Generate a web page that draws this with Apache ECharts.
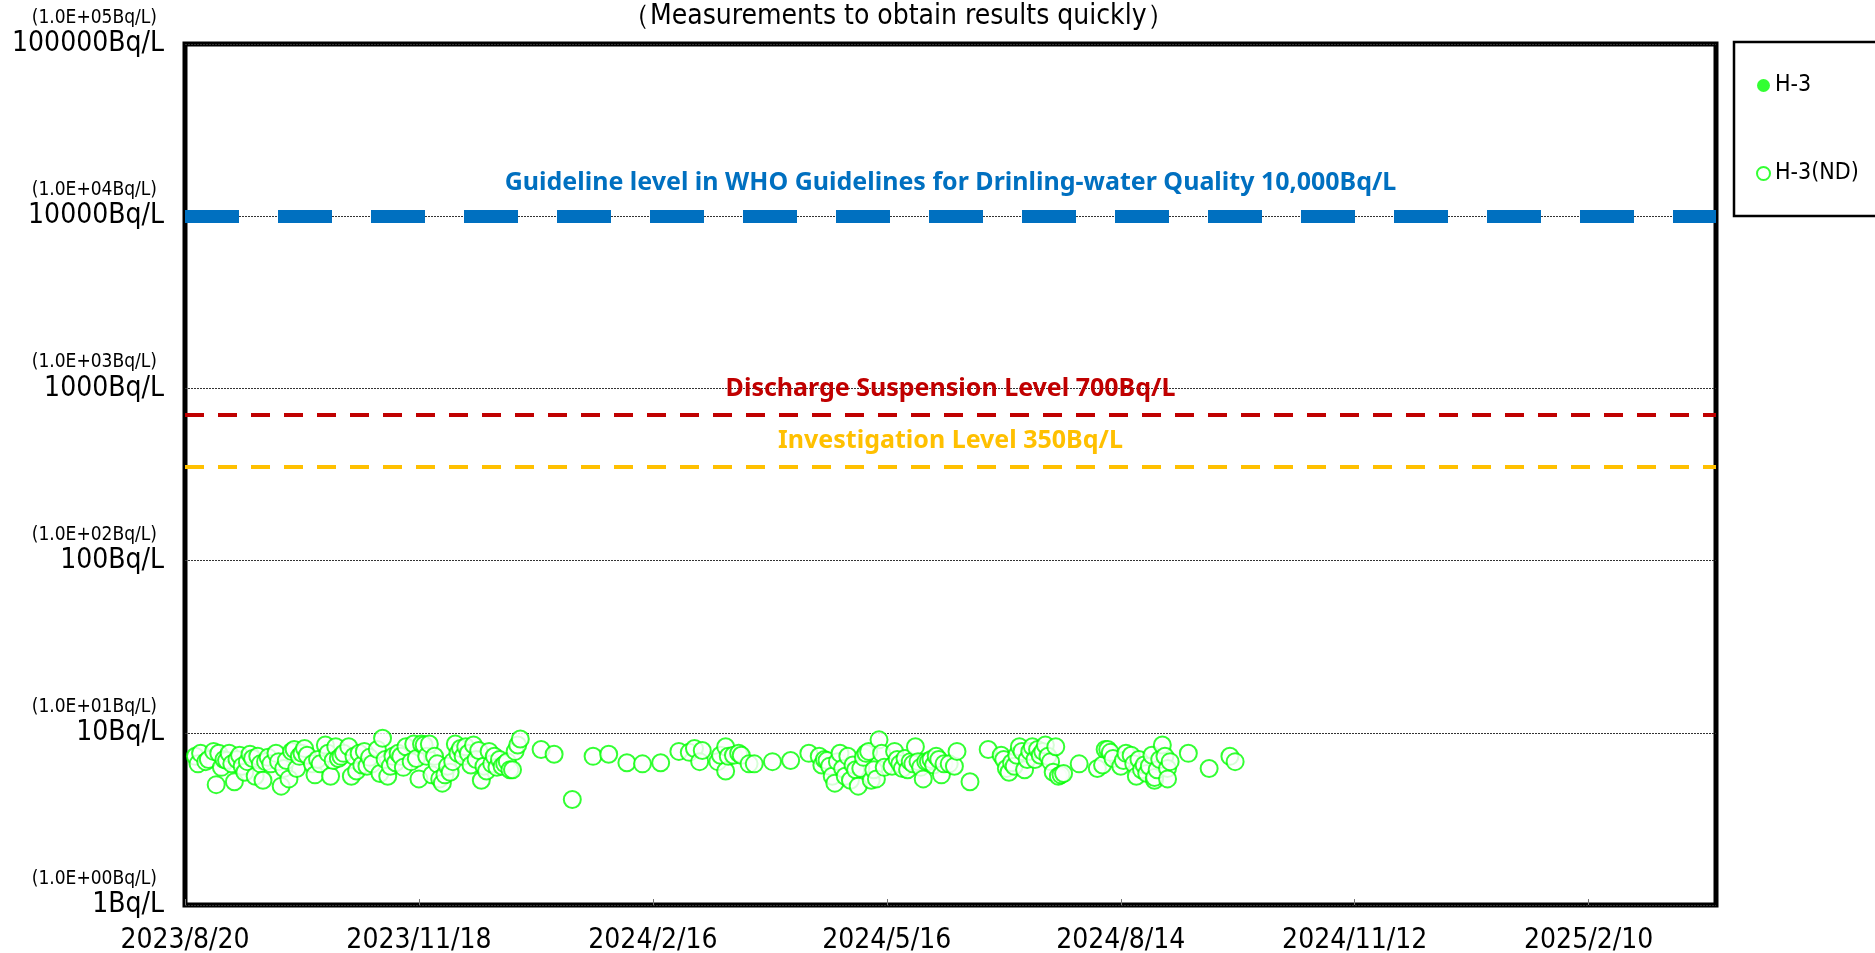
<!DOCTYPE html>
<html>
<head>
<meta charset="utf-8">
<title>H-3 (Measurements to obtain results quickly)</title>
<script src="https://cdn.jsdelivr.net/npm/echarts@6/dist/echarts.min.js"></script>
<style>
  html, body { margin: 0; padding: 0; background: #fff; }
  #main { width: 1875px; height: 953px; }
</style>
</head>
<body>
<div id="main"></div>
<script>
// 採取日 / H-3 (ND) 検出下限値 [Bq/L]
var ndDates = [
  '2023/8/24','2023/8/25','2023/8/26','2023/8/28','2023/8/29','2023/8/31','2023/9/1','2023/9/2','2023/9/3','2023/9/4',
  '2023/9/5','2023/9/6','2023/9/7','2023/9/8','2023/9/9','2023/9/10','2023/9/11','2023/9/12','2023/9/13','2023/9/14',
  '2023/9/15','2023/9/16','2023/9/17','2023/9/18','2023/9/19','2023/9/20','2023/9/21','2023/9/22','2023/9/24','2023/9/25',
  '2023/9/26','2023/9/27','2023/9/28','2023/9/29','2023/9/30','2023/10/1','2023/10/2','2023/10/3','2023/10/4','2023/10/5',
  '2023/10/6','2023/10/8','2023/10/9','2023/10/10','2023/10/11','2023/10/13','2023/10/14','2023/10/15','2023/10/16','2023/10/17',
  '2023/10/18','2023/10/19','2023/10/20','2023/10/22','2023/10/23','2023/10/24','2023/10/25','2023/10/26','2023/10/27','2023/10/28',
  '2023/10/29','2023/10/30','2023/10/31','2023/11/2','2023/11/3','2023/11/4','2023/11/5','2023/11/6','2023/11/7','2023/11/8',
  '2023/11/9','2023/11/10','2023/11/11','2023/11/12','2023/11/13','2023/11/15','2023/11/16','2023/11/17','2023/11/18','2023/11/19',
  '2023/11/20','2023/11/21','2023/11/22','2023/11/23','2023/11/24','2023/11/25','2023/11/26','2023/11/27','2023/11/28','2023/11/29',
  '2023/11/30','2023/12/1','2023/12/2','2023/12/3','2023/12/4','2023/12/5','2023/12/6','2023/12/7','2023/12/8','2023/12/9',
  '2023/12/10','2023/12/11','2023/12/12','2023/12/13','2023/12/14','2023/12/15','2023/12/16','2023/12/17','2023/12/18','2023/12/19',
  '2023/12/20','2023/12/21','2023/12/22','2023/12/23','2023/12/24','2023/12/25','2023/12/26','2023/12/27',
  '2024/1/4','2024/1/9','2024/1/16','2024/1/24','2024/1/30','2024/2/6','2024/2/12','2024/2/19','2024/2/26',
  '2024/3/1','2024/3/3','2024/3/5','2024/3/6','2024/3/12','2024/3/13','2024/3/15','2024/3/15','2024/3/16','2024/3/18',
  '2024/3/20','2024/3/21','2024/3/24','2024/3/26','2024/4/2','2024/4/9','2024/4/16','2024/4/20','2024/4/21','2024/4/22',
  '2024/4/23','2024/4/24','2024/4/25','2024/4/26','2024/4/27','2024/4/28','2024/4/29','2024/4/30','2024/5/1','2024/5/2',
  '2024/5/3','2024/5/4','2024/5/5','2024/5/6','2024/5/7','2024/5/8','2024/5/9','2024/5/10','2024/5/11','2024/5/12',
  '2024/5/13','2024/5/14','2024/5/15','2024/5/18','2024/5/19','2024/5/20','2024/5/21','2024/5/22','2024/5/23','2024/5/24',
  '2024/5/25','2024/5/26','2024/5/27','2024/5/28','2024/5/29','2024/5/30','2024/5/31','2024/6/1','2024/6/2','2024/6/3',
  '2024/6/4','2024/6/5','2024/6/6','2024/6/7','2024/6/9','2024/6/11','2024/6/12','2024/6/17','2024/6/24',
  '2024/6/29','2024/6/30','2024/7/1','2024/7/2','2024/7/3','2024/7/4','2024/7/5','2024/7/6','2024/7/7','2024/7/8',
  '2024/7/9','2024/7/10','2024/7/11','2024/7/12','2024/7/13','2024/7/14','2024/7/15','2024/7/16','2024/7/17','2024/7/18',
  '2024/7/19','2024/7/20','2024/7/21','2024/7/22','2024/7/23','2024/7/29','2024/8/5','2024/8/7','2024/8/8','2024/8/9',
  '2024/8/10','2024/8/11','2024/8/14','2024/8/15','2024/8/16','2024/8/18','2024/8/19','2024/8/20','2024/8/21','2024/8/22',
  '2024/8/23','2024/8/24','2024/8/25','2024/8/26','2024/8/27','2024/8/27','2024/8/28','2024/8/29','2024/8/30','2024/8/31',
  '2024/9/1','2024/9/1','2024/9/2','2024/9/9','2024/9/17','2024/9/25','2024/9/27'
];
var ndValues = [
  7.3,6.6,7.6,6.8,7.0,7.8,5.0,7.6,6.3,7.0,
  6.9,7.6,6.6,5.2,7.0,7.4,6.4,5.9,6.8,7.5,
  7.1,5.6,7.3,6.6,5.3,6.8,7.2,6.6,7.6,6.8,
  4.9,6.2,6.9,5.4,7.8,8.0,6.2,7.3,7.6,8.1,
  7.4,6.6,5.7,7.0,6.6,8.5,7.6,5.6,6.9,8.3,
  7.1,7.3,7.6,8.3,5.6,7.3,6.0,7.6,6.5,7.8,
  6.4,7.2,6.6,8.0,5.8,9.3,7.0,5.6,6.4,7.3,
  6.7,7.6,7.3,6.3,8.3,6.8,8.6,7.1,5.4,8.6,
  8.5,7.3,8.6,5.7,7.3,6.6,5.4,5.1,5.7,6.4,
  5.9,6.8,8.6,7.6,8.1,7.3,8.3,7.6,6.5,8.5,
  7.0,7.9,5.3,6.4,6.0,7.8,6.6,7.3,6.3,7.0,
  6.4,6.6,6.8,6.1,6.1,7.8,8.5,9.2,
  8.0,7.5,4.1,7.3,7.5,6.7,6.6,6.7,7.8,
  7.7,8.1,6.8,7.9,6.8,7.4,8.3,6.0,7.3,7.4,
  7.6,7.4,6.6,6.6,6.8,6.9,7.6,7.3,6.5,7.0,
  6.9,6.4,5.6,5.1,6.8,7.6,6.2,5.6,7.3,5.3,
  6.5,6.1,4.9,6.2,7.2,7.6,7.8,5.3,6.1,5.4,
  9.1,7.6,6.3,6.4,7.8,7.0,6.6,6.2,7.1,6.1,
  6.8,6.6,8.3,6.8,6.3,5.4,6.8,6.8,7.0,6.5,
  7.3,7.0,5.7,6.6,6.6,6.4,7.8,5.2,8.0,
  7.4,7.0,6.2,5.9,6.7,6.4,7.4,8.3,7.8,6.1,
  7.0,7.8,8.3,7.0,8.0,7.4,7.8,8.5,7.3,6.8,
  5.9,8.3,5.6,5.7,5.8,6.6,6.2,6.5,8.0,8.0,
  7.7,7.1,6.4,6.9,7.6,7.4,6.6,5.6,7.0,6.1,
  6.5,5.8,6.4,7.4,5.3,5.5,6.1,7.0,8.5,7.3,
  6.2,5.4,6.8,7.6,6.2,7.3,6.8
];
// H-3 検出値（この期間は無し）
var detDates = [];
var detValues = [];

var startDate = '2023/8/20';
var endDate = '2025/3/31';
var xTickLabels = ['2023/8/20','2023/11/18','2024/2/16','2024/5/16','2024/8/14','2024/11/12','2025/2/10'];
var yTickLabels = ['1Bq/L','10Bq/L','100Bq/L','1000Bq/L','10000Bq/L','100000Bq/L'];
var yTickSubLabels = ['(1.0E+00Bq/L)','(1.0E+01Bq/L)','(1.0E+02Bq/L)','(1.0E+03Bq/L)','(1.0E+04Bq/L)','(1.0E+05Bq/L)'];

var levelValues = [10000, 700, 350];
var levelNames = [
  'Guideline level in WHO Guidelines for Drinling-water Quality 10,000Bq/L',
  'Discharge Suspension Level 700Bq/L',
  'Investigation Level 350Bq/L'
];

var DAY = 86400000;
function toTime(s) {
  var p = s.split('/');
  return Date.UTC(+p[0], +p[1] - 1, +p[2]);
}
// 経過日数（2023/8/20 起点）
function toDay(s) {
  return Math.round((toTime(s) - toTime(startDate)) / DAY);
}
function pairs(dates, values) {
  var out = [];
  for (var i = 0; i < dates.length; i++) {
    out.push([toDay(dates[i]), values[i]]);
  }
  return out;
}

var gothic = '"DejaVu Sans Condensed", "Liberation Sans Narrow", "DejaVu Sans", sans-serif';
var green = '#00FF00';
var lineColors = ['#0070C0', '#C00000', '#FFC000'];

var markData = [];
for (var i = 0; i < levelValues.length; i++) {
  var big = i === 0;
  markData.push({
    yAxis: levelValues[i],
    lineStyle: {
      color: lineColors[i],
      width: big ? 13 : 4,
      type: big ? [54, 39] : [19, 14]
    },
    label: {
      show: true,
      position: 'insideMiddleTop',
      distance: big ? 20 : 13,
      formatter: levelNames[i],
      color: lineColors[i],
      fontFamily: '"Noto Sans", sans-serif',
      fontWeight: 'bold',
      fontSize: 25,
      lineHeight: 26
    }
  });
}

var myChart = echarts.init(document.getElementById('main'), null, { renderer: 'canvas' });

var option = {
  animation: false,
  backgroundColor: '#fff',
  graphic: [{
    type: 'text',
    left: 622,
    top: 3,
    style: {
      text: '（Measurements to obtain results quickly）',
      font: '28px ' + gothic,
      fill: '#000'
    }
  }],
  legend: {
    orient: 'vertical',
    left: 1734,
    top: 42,
    padding: [32, 90, 31, 22],
    itemGap: 65,
    itemWidth: 13,
    itemHeight: 13,
    borderColor: '#000',
    borderWidth: 2.5,
    textStyle: { fontSize: 23, fontFamily: gothic, color: '#000' },
    data: [
      { name: 'H-3', icon: 'circle', itemStyle: { color: green } },
      { name: 'H-3(ND)', icon: 'emptyCircle', itemStyle: { color: green, borderColor: green, borderWidth: 1.5 } }
    ]
  },
  grid: {
    left: 185,
    right: 159,
    top: 44,
    bottom: 48,
    outerBoundsMode: 'none',
    containLabel: false,
    show: true,
    borderColor: '#000',
    borderWidth: 5,
    backgroundColor: 'transparent'
  },
  xAxis: {
    type: 'value',
    min: 0,
    max: toDay(endDate),
    interval: 90,
    axisLine: { show: false },
    axisTick: { show: true, inside: true, length: 6, lineStyle: { color: '#777', width: 1 } },
    splitLine: { show: false },
    axisLabel: {
      margin: 22,
      showMaxLabel: false,
      fontSize: 28,
      fontFamily: gothic,
      color: '#000',
      formatter: function (v) {
        return xTickLabels[Math.round(v / 90)] || '';
      }
    }
  },
  yAxis: {
    type: 'log',
    logBase: 10,
    min: 1,
    max: 100000,
    axisLine: { show: false },
    axisTick: { show: false },
    splitLine: { show: true, lineStyle: { color: '#333', width: 1, type: [2, 1] } },
    axisLabel: {
      margin: 21,
      padding: [0, 0, 22, 0],
      color: '#000',
      fontFamily: gothic,
      formatter: function (v) {
        var k = Math.round(Math.log(v) / Math.LN10);
        return '{s|' + yTickSubLabels[k] + '}\n{b|' + yTickLabels[k] + '}';
      },
      rich: {
        s: { fontSize: 19, lineHeight: 22, fontFamily: gothic, color: '#000', padding: [0, 7, 0, 0] },
        b: { fontSize: 28, lineHeight: 30, fontFamily: gothic, color: '#000' }
      }
    }
  },
  series: [
    {
      name: 'H-3',
      type: 'scatter',
      symbol: 'circle',
      symbolSize: 17,
      itemStyle: { color: green },
      data: pairs(detDates, detValues)
    },
    {
      name: 'H-3(ND)',
      type: 'scatter',
      symbol: 'emptyCircle',
      symbolSize: 17,
      itemStyle: { color: green, borderColor: green, borderWidth: 1.4 },
      data: pairs(ndDates, ndValues),
      markLine: {
        silent: true,
        symbol: ['none', 'none'],
        data: markData
      }
    }
  ]
};

myChart.setOption(option);
</script>
</body>
</html>
